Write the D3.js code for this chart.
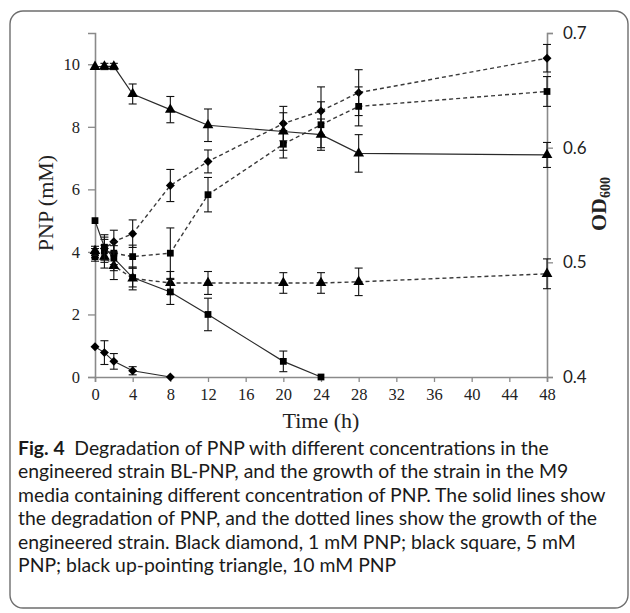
<!DOCTYPE html>
<html>
<head>
<meta charset="utf-8">
<script src="https://cdn.jsdelivr.net/npm/d3@7"></script>
<style>
  html, body { margin: 0; padding: 0; background: #fff; }
  svg { display: block; }
</style>
</head>
<body>
<div id="chart"></div>
<script>
// Sampling times (h)
const times = [0, 1, 2, 4, 8, 12, 20, 24, 28, 48];

// PNP concentration (mM), solid lines, left axis
const pnp1 = [0.97, 0.78, 0.5, 0.2, 0];
const pnp1Err = [0, 0.38, 0.25, 0.13, 0];
const pnp5 = [5.0, 4.15, 3.8, 3.18, 2.72, 2.0, 0.5, 0];
const pnp5Err = [0, 0.4, 0.4, 0.3, 0.4, 0.52, 0.33, 0];
const pnp10 = [9.92, 9.93, 9.93, 9.05, 8.55, 8.05, 7.85, 7.75, 7.15, 7.1];
const pnp10Err = [0, 0.1, 0.1, 0.32, 0.42, 0.52, 0.6, 0.5, 0.6, 0.4];

// OD600, dotted lines, right axis
const od1 = [0.508, 0.512, 0.518, 0.525, 0.567, 0.588, 0.621, 0.632, 0.648, 0.678];
const od1Err = [0.004, 0.01, 0.01, 0.012, 0.014, 0.01, 0.015, 0.021, 0.02, 0.012];
const od5 = [0.505, 0.51, 0.508, 0.505, 0.508, 0.559, 0.603, 0.62, 0.636, 0.649];
const od5Err = [0.004, 0.01, 0.01, 0.01, 0.022, 0.015, 0.012, 0.02, 0.017, 0.013];
const od10 = [0.51, 0.505, 0.497, 0.486, 0.482, 0.482, 0.482, 0.482, 0.483, 0.49];
const od10Err = [0.004, 0.01, 0.012, 0.01, 0.01, 0.01, 0.009, 0.009, 0.012, 0.013];

// Tick values
const xTicks = [0, 4, 8, 12, 16, 20, 24, 28, 32, 36, 40, 44, 48];
const yLeftTicks = [0, 2, 4, 6, 8, 10];
const yRightTicks = [0.4, 0.5, 0.6, 0.7];

const captionLines = [
    "Degradation of PNP with different concentrations in the",
    "engineered strain BL-PNP, and the growth of the strain in the M9",
    "media containing different concentration of PNP. The solid lines show",
    "the degradation of PNP, and the dotted lines show the growth of the",
    "engineered strain. Black diamond, 1 mM PNP; black square, 5 mM",
    "PNP; black up-pointing triangle, 10 mM PNP"
];

const W = 630, H = 613;
const plot = { left: 95, right: 547, top: 33, bottom: 377 };
const serif = "'Liberation Serif', 'Times New Roman', serif";
const sans = "Lato, 'Open Sans', sans-serif";
const axisColor = "#8a8a8a";
const inkColor = "#222";

const svg = d3.select("#chart").append("svg")
    .attr("width", W)
    .attr("height", H);

// Rounded frame around the figure
svg.append("rect")
    .attr("x", 10).attr("y", 11)
    .attr("width", 618).attr("height", 597)
    .attr("rx", 13)
    .attr("fill", "none")
    .attr("stroke", "#6e6e6e")
    .attr("stroke-width", 1.4);

// Scales
const x = d3.scaleLinear().domain([0, 48]).range([plot.left, plot.right]);
const yL = d3.scaleLinear().domain([0, 11]).range([plot.bottom, plot.top]);
const yR = d3.scaleLinear().domain([0.4, 0.7]).range([plot.bottom, plot.top]);

// Axes
function styleAxis(g) {
    g.select(".domain").attr("stroke", axisColor).attr("stroke-width", 1.6);
    g.selectAll(".tick line").attr("stroke", axisColor).attr("stroke-width", 1.3);
}

const xAxis = svg.append("g")
    .attr("transform", `translate(0,${plot.bottom})`)
    .call(d3.axisBottom(x).tickValues(xTicks).tickSizeOuter(0).tickSize(5).tickPadding(6))
    .call(styleAxis);
xAxis.selectAll(".tick text")
    .attr("font-family", serif).attr("font-size", 16.5).attr("fill", inkColor);

const leftAxis = svg.append("g")
    .attr("transform", `translate(${plot.left},0)`)
    .call(d3.axisLeft(yL).tickValues(yLeftTicks).tickSizeOuter(0).tickSize(7).tickPadding(8))
    .call(styleAxis);
leftAxis.selectAll(".tick text")
    .attr("font-family", serif).attr("font-size", 16.5).attr("fill", inkColor);

const rightAxis = svg.append("g")
    .attr("transform", `translate(${plot.right},0)`)
    .call(d3.axisRight(yR).tickValues(yRightTicks).tickFormat(d3.format(".1f")).tickSizeOuter(0).tickSize(6).tickPadding(10))
    .call(styleAxis);
rightAxis.selectAll(".tick text")
    .attr("font-family", sans).attr("font-size", 17).attr("fill", inkColor);

// Axis titles
svg.append("text")
    .attr("transform", `translate(53,203) rotate(-90)`)
    .attr("text-anchor", "middle")
    .attr("font-family", serif).attr("font-size", 22).attr("fill", inkColor)
    .text("PNP (mM)");

svg.append("text")
    .attr("x", (plot.left + plot.right) / 2)
    .attr("y", 428)
    .attr("text-anchor", "middle")
    .attr("font-family", serif).attr("font-size", 22).attr("fill", inkColor)
    .text("Time (h)");

const odTitle = svg.append("text")
    .attr("transform", `translate(606,204) rotate(-90)`)
    .attr("text-anchor", "middle")
    .attr("font-family", serif).attr("font-weight", "bold").attr("font-size", 22).attr("fill", inkColor);
odTitle.append("tspan").text("OD");
odTitle.append("tspan").attr("font-size", 14).attr("dy", 4).text("600");

// Build series objects from the arrays
function series(vals, errs, yScale, shape, dashed) {
    return {
        pts: vals.map((v, i) => ({ t: times[i], v: v, e: errs[i] })),
        y: yScale, shape: shape, dashed: dashed
    };
}

const allSeries = [
    series(od1, od1Err, yR, "diamond", true),
    series(od5, od5Err, yR, "square", true),
    series(od10, od10Err, yR, "triangle", true),
    series(pnp1, pnp1Err, yL, "diamond", false),
    series(pnp5, pnp5Err, yL, "square", false),
    series(pnp10, pnp10Err, yL, "triangle", false)
];

const symbols = {
    diamond: d3.symbol().type(d3.symbolSquare).size(40)(),
    square: d3.symbol().type(d3.symbolSquare).size(46)(),
    triangle: d3.symbol().type(d3.symbolTriangle).size(50)()
};

const layer = svg.append("g");

allSeries.forEach(s => {
    const line = d3.line()
        .x(d => x(d.t))
        .y(d => s.y(d.v));

    layer.append("path")
        .datum(s.pts)
        .attr("d", line)
        .attr("fill", "none")
        .attr("stroke", s.dashed ? "#3a3a3a" : "#2a2a2a")
        .attr("stroke-width", s.dashed ? 1.4 : 1.2)
        .attr("stroke-dasharray", s.dashed ? "4,3" : null);

    // Error bars with caps
    const bars = layer.append("g")
        .selectAll("g")
        .data(s.pts.filter(d => d.e > 0))
        .join("g");
    bars.append("line")
        .attr("x1", d => x(d.t)).attr("x2", d => x(d.t))
        .attr("y1", d => s.y(d.v - d.e)).attr("y2", d => s.y(d.v + d.e))
        .attr("stroke", "#111").attr("stroke-width", 1.1);
    [-1, 1].forEach(sign => {
        bars.append("line")
            .attr("x1", d => x(d.t) - 4).attr("x2", d => x(d.t) + 4)
            .attr("y1", d => s.y(d.v + sign * d.e)).attr("y2", d => s.y(d.v + sign * d.e))
            .attr("stroke", "#111").attr("stroke-width", 1.1);
    });

    // Markers
    layer.append("g")
        .selectAll("path")
        .data(s.pts)
        .join("path")
        .attr("d", symbols[s.shape])
        .attr("transform", d => `translate(${x(d.t)},${s.y(d.v)})` + (s.shape === "diamond" ? " rotate(45)" : ""))
        .attr("fill", "#000");
});

// Caption
const caption = svg.append("g")
    .attr("font-family", sans)
    .attr("font-size", 20)
    .attr("fill", "#1a1a1a");

const captionTexts = captionLines.map((txt, i) => {
    const t = caption.append("text")
        .attr("x", 18)
        .attr("y", 455 + i * 23.4);
    if (i === 0) {
        t.append("tspan").attr("font-weight", "bold").text("Fig. 4");
        t.append("tspan").text("\u2002" + txt);
    } else {
        t.text(txt);
    }
    return t;
});

// Fit the font so the longest line ends near the right side of the frame
const longest = d3.max(captionTexts, t => t.node().getComputedTextLength());
caption.attr("font-size", 20 * 588 / longest);
</script>
</body>
</html>
